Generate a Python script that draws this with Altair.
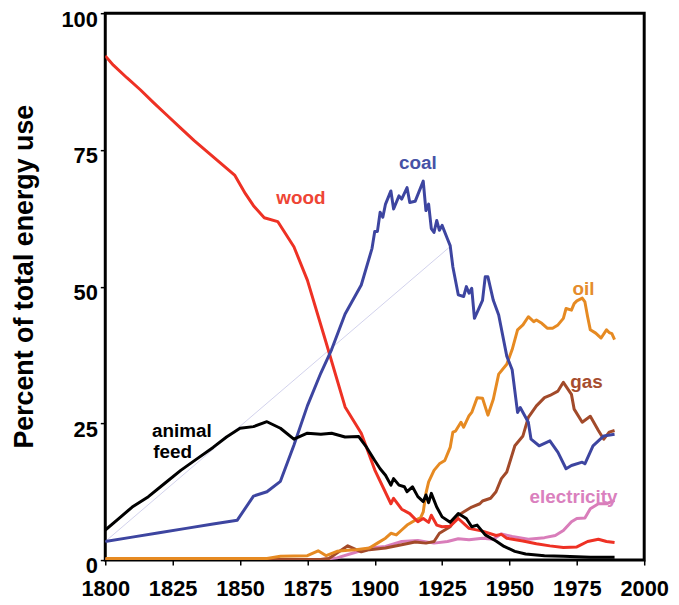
import altair as alt
import pandas as pd

# ---------------- data (percent of total energy use) ----------------
wood_years = [1800, 1803, 1808, 1813, 1818, 1823, 1828, 1833, 1838, 1843, 1848, 1852, 1855, 1859, 1864,
              1870, 1875, 1882, 1889, 1895, 1900, 1906, 1907, 1910, 1913, 1916, 1918, 1920, 1921, 1923,
              1925, 1928, 1931, 1935, 1940, 1945, 1947, 1949, 1955, 1960, 1965, 1970, 1975, 1979, 1983,
              1986, 1989]
wood_vals = [92.2, 90.5, 88.2, 86.0, 83.6, 81.3, 79.0, 76.7, 74.6, 72.5, 70.4, 67.0, 64.8, 62.6, 61.9,
             57.3, 51.2, 39.7, 28.0, 23.2, 16.5, 10.3, 11.3, 9.3, 8.5, 7.0, 7.6, 6.9, 8.2, 6.4,
             6.1, 6.2, 7.6, 5.8, 5.3, 4.5, 4.7, 4.0, 3.5, 3.0, 2.6, 2.3, 2.4, 3.4, 3.8,
             3.4, 3.2]

coal_years = [1800, 1810, 1820, 1830, 1840, 1849, 1855, 1860, 1865, 1870, 1875, 1880, 1884, 1889, 1895,
              1899, 1900, 1901, 1902, 1903, 1904, 1906, 1907, 1909, 1910, 1912, 1913, 1915, 1918, 1919,
              1920, 1921, 1922, 1923, 1924, 1925, 1927, 1928, 1929, 1931, 1933, 1934, 1935, 1936, 1937,
              1940, 1941, 1942, 1944, 1946, 1949, 1951, 1953, 1954, 1957, 1958, 1961, 1965, 1968, 1971,
              1973, 1977, 1978, 1981, 1985, 1989]
coal_vals = [3.4, 4.2, 5.0, 5.8, 6.6, 7.3, 11.7, 12.5, 14.4, 21.0, 28.2, 34.2, 38.5, 45.0, 50.3,
             57.0, 60.1, 60.1, 63.6, 62.7, 65.1, 67.5, 64.2, 66.6, 66.0, 68.1, 65.4, 65.6, 69.3, 63.9,
             65.1, 60.6, 59.9, 62.1, 60.3, 61.2, 58.7, 57.5, 53.6, 48.5, 48.2, 50.0, 48.8, 49.7, 44.2,
             47.5, 51.8, 51.8, 47.5, 44.8, 37.3, 34.8, 27.0, 27.9, 25.2, 22.1, 20.9, 21.8, 19.7, 16.7,
             17.3, 17.9, 17.6, 20.9, 22.7, 23.0]

feed_years = [1800, 1805, 1810, 1816, 1822, 1828, 1834, 1840, 1845, 1850, 1855, 1860, 1865, 1870, 1875,
              1880, 1884, 1889, 1894, 1897, 1900, 1902, 1904, 1906, 1907, 1909, 1911, 1912, 1914, 1916,
              1918, 1919, 1920, 1921, 1923, 1925, 1928, 1931, 1934, 1936, 1938, 1941, 1945, 1948, 1952,
              1956, 1963, 1970, 1980, 1989]
feed_vals = [5.5, 7.6, 9.7, 11.6, 14.0, 16.4, 18.5, 20.6, 22.5, 24.1, 24.4, 25.3, 24.1, 22.1, 23.2,
             23.0, 23.2, 22.5, 22.6, 20.6, 18.2, 16.7, 15.5, 13.7, 14.9, 13.7, 13.4, 12.5, 13.4, 11.6,
             10.7, 11.9, 10.5, 12.2, 9.7, 7.9, 6.9, 8.5, 7.6, 6.1, 6.4, 4.6, 3.5, 2.5, 1.6,
             1.1, 0.8, 0.7, 0.5, 0.5]

oil_years = [1800, 1860, 1865, 1875, 1879, 1882, 1886, 1890, 1893, 1898, 1901, 1904, 1906, 1908, 1910,
             1912, 1915, 1917, 1918, 1919, 1920, 1922, 1924, 1926, 1928, 1929, 1930, 1932, 1933, 1935,
             1936, 1938, 1940, 1942, 1944, 1946, 1949, 1951, 1953, 1955, 1957, 1959, 1960, 1962, 1964,
             1966, 1968, 1970, 1971, 1973, 1974, 1975, 1977, 1978, 1979, 1980, 1982, 1984, 1986, 1987,
             1988, 1989]
oil_vals = [0.3, 0.3, 0.7, 0.8, 1.7, 0.8, 1.6, 1.8, 1.9, 2.2, 3.1, 4.0, 4.9, 4.6, 5.5,
            6.4, 7.3, 7.7, 8.8, 12.2, 14.3, 16.4, 17.6, 18.2, 20.6, 23.4, 23.6, 25.2, 24.3, 26.4,
            27.0, 29.7, 29.6, 26.5, 29.4, 34.0, 35.8, 38.5, 42.1, 43.0, 44.5, 43.6, 43.9, 43.3, 42.4,
            42.4, 43.0, 44.2, 46.0, 45.7, 46.9, 47.4, 47.9, 47.2, 44.5, 42.1, 41.5, 40.6, 42.1, 41.6,
            41.4, 40.3]

gas_years = [1800, 1880, 1883, 1886, 1890, 1895, 1898, 1904, 1910, 1915, 1919, 1922, 1924, 1928, 1931,
             1934, 1936, 1939, 1940, 1943, 1945, 1947, 1949, 1952, 1955, 1957, 1960, 1963, 1965, 1968,
             1970, 1973, 1974, 1977, 1980, 1983, 1985, 1987, 1989]
gas_vals = [0.1, 0.1, 0.3, 1.3, 2.6, 1.5, 1.9, 2.2, 2.8, 3.3, 3.1, 3.4, 4.9, 6.1, 8.2,
            9.1, 9.7, 10.3, 10.8, 11.3, 12.5, 14.9, 16.1, 20.9, 22.7, 26.1, 28.2, 29.7, 30.1, 30.9,
            32.5, 30.3, 27.6, 25.2, 26.3, 23.7, 22.1, 23.4, 23.7]

elec_years = [1800, 1880, 1886, 1892, 1898, 1904, 1910, 1916, 1922, 1927, 1931, 1935, 1940, 1944, 1947,
              1951, 1957, 1963, 1967, 1970, 1973, 1975, 1978, 1980, 1983, 1986, 1989]
elec_vals = [0.1, 0.1, 0.4, 1.3, 2.2, 2.5, 3.4, 3.6, 3.1, 3.4, 3.9, 3.7, 4.0, 3.8, 4.8,
             4.3, 3.8, 4.1, 4.5, 5.4, 7.0, 7.6, 7.7, 9.4, 10.3, 10.3, 10.9]

# faint straight guide line present in the original figure
guide_years = [1800, 1928.4]
guide_vals = [3.4, 57.5]

# series labels
label_texts = ["wood", "coal", "oil", "gas", "electricity", "animal", "feed"]
label_years = [1872.6, 1916.0, 1977.5, 1978.6, 1973.8, 1828.4, 1825.0]
label_vals = [65.2, 71.5, 48.5, 31.4, 10.5, 22.5, 18.6]
label_colors = ["#EE4535", "#4652A6", "#E58C2C", "#A64D2E", "#DA80BE", "#000000", "#000000"]

x_ticks = [1800, 1825, 1850, 1875, 1900, 1925, 1950, 1975, 2000]
y_ticks = [0, 25, 50, 75, 100]

# ---------------- build table ----------------
series = [
    ("guide", guide_years, guide_vals, "#D2D2EC", 1.0),
    ("electricity", elec_years, elec_vals, "#D97DBA", 3.0),
    ("gas", gas_years, gas_vals, "#A24A2A", 3.0),
    ("oil", oil_years, oil_vals, "#E68A22", 3.0),
    ("wood", wood_years, wood_vals, "#EE3124", 3.0),
    ("coal", coal_years, coal_vals, "#3D45A0", 3.0),
    ("animal feed", feed_years, feed_vals, "#000000", 3.0),
]
rows = []
for name, ys, vs, _, _ in series:
    for yr, v in zip(ys, vs):
        rows.append({"series": name, "year": yr, "value": v})
df = pd.DataFrame(rows)

labels_df = pd.DataFrame({"label": label_texts, "year": label_years,
                          "value": label_vals, "color": label_colors})

FONT = "Liberation Sans"

x_enc = alt.X("year:Q",
              scale=alt.Scale(domain=[1800, 2000], nice=False, zero=False),
              axis=alt.Axis(values=x_ticks, format="d", title=None, labelPadding=14,
                            labelFlush=False, labelOverlap=False))
y_enc = alt.Y("value:Q",
              scale=alt.Scale(domain=[0, 100], nice=False),
              axis=alt.Axis(values=y_ticks, title="Percent of total energy use",
                            labelPadding=3, labelFlush=False, labelOverlap=False,
                            labelBaseline="middle", labelOffset=6,
                            titleAngle=270, titleAlign="center",
                            titleBaseline="alphabetic", titleX=-73, titleY=265))

layers = []
for name, _, _, col, w in series:
    layers.append(
        alt.Chart(df)
        .transform_filter(alt.datum.series == name)
        .mark_line(color=col, strokeWidth=w, strokeJoin="round", clip=True)
        .encode(x=x_enc, y=y_enc)
    )

text_layer = (
    alt.Chart(labels_df)
    .mark_text(font=FONT, fontSize=19, fontWeight="bold", align="center", baseline="alphabetic")
    .encode(x="year:Q", y="value:Q", text="label:N", color=alt.Color("color:N", scale=None))
)
layers.append(text_layer)

chart = (
    alt.layer(*layers)
    .properties(width=543, height=551,
                autosize=alt.AutoSizeParams(type="none"),
                padding={"left": 98, "top": 3, "right": 27, "bottom": 40})
    .configure_view(stroke="black", strokeWidth=3)
    .configure_axis(labelFont=FONT, labelFontSize=22, labelFontWeight="bold", labelColor="black",
                    titleFont=FONT, titleFontSize=27, titleFontWeight="bold", titleColor="black",
                    tickColor="black", tickWidth=1.5, tickSize=5, domain=False, grid=False)
)

chart.save("out.html", embed_options={"renderer": "svg", "actions": False})
